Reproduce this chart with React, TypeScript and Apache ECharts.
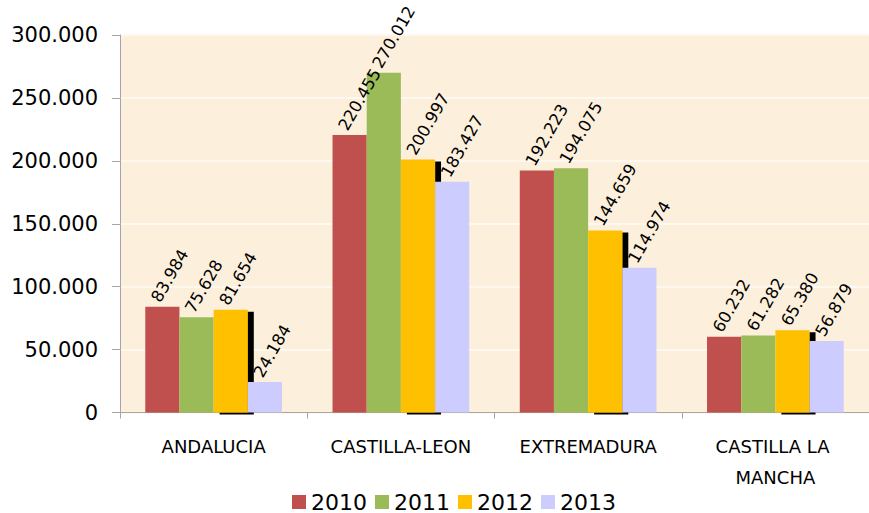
import React, { useEffect, useRef } from "react";
import * as echarts from "echarts";

const categories = ["ANDALUCIA", "CASTILLA-LEON", "EXTREMADURA", "CASTILLA LA MANCHA"];
const years = ["2010", "2011", "2012", "2013"];
const values2010 = [83984, 220455, 192223, 60232];
const values2011 = [75628, 270012, 194075, 61282];
const values2012 = [81654, 200997, 144659, 65380];
const values2013 = [24184, 183427, 114974, 56879];
const seriesValues = [values2010, values2011, values2012, values2013];
const colors = ["#C0504D", "#9BBB59", "#FFC000", "#CCCCFF"];
const yMin = 0;
const yMax = 300000;
const yInterval = 50000;

const fmt = (v: number) => String(Math.round(v)).replace(/\B(?=(\d{3})+(?!\d))/g, ".");

export default function App() {
  const ref = useRef<HTMLDivElement>(null);
  useEffect(() => {
    if (!ref.current) return;
    const chart = echarts.init(ref.current, null, { renderer: "svg" });
    const numFont = "DejaVu Sans";
    chart.setOption({
      animation: false,
      backgroundColor: "#FFFFFF",
      grid: {
        left: 120,
        top: 35,
        width: 756,
        height: 377.5,
        show: true,
        backgroundColor: "#FCF0DC",
        borderWidth: 0,
        containLabel: false,
      },
      legend: {
        data: years,
        left: 287,
        top: 486,
        icon: "rect",
        itemWidth: 14,
        itemHeight: 14,
        itemGap: 8,
        textStyle: { fontFamily: numFont, fontSize: 22, color: "#000", lineHeight: 22 },
      },
      xAxis: {
        type: "category",
        data: categories,
        axisLine: { show: true, lineStyle: { color: "#A6A6A6", width: 1 } },
        axisTick: { show: true, length: 6, lineStyle: { color: "#A6A6A6" } },
        axisLabel: {
          interval: 0,
          margin: 18,
          fontFamily: numFont,
          fontSize: 18,
          color: "#000",
          lineHeight: 31,
          width: 170,
          overflow: "break",
        },
        splitLine: { show: false },
      },
      yAxis: {
        type: "value",
        min: yMin,
        max: yMax,
        interval: yInterval,
        axisLine: { show: true, lineStyle: { color: "#A6A6A6", width: 1 } },
        axisTick: { show: true, length: 8, lineStyle: { color: "#A6A6A6" } },
        axisLabel: {
          margin: 22,
          fontFamily: numFont,
          fontSize: 21,
          color: "#000",
          formatter: (v: number) => fmt(v),
        },
        splitLine: { show: true, lineStyle: { color: "#FFF8EE", width: 2 } },
      },
      series: years.map((y, i) => ({
        name: y,
        type: "bar",
        data: seriesValues[i],
        barGap: "0%",
        barCategoryGap: "27%",
        itemStyle: {
          color: colors[i],
          ...(i === 2
            ? { shadowColor: "#000000", shadowBlur: 0, shadowOffsetX: 6, shadowOffsetY: 2 }
            : {}),
        },
        label: {
          show: true,
          position: "top",
          distance: 2,
          offset: [0, -8],
          rotate: 60,
          align: "left",
          verticalAlign: "middle",
          fontFamily: numFont,
          fontSize: 16.5,
          color: "#000",
          formatter: (p: any) => fmt(p.value),
        },
      })),
    });
    return () => chart.dispose();
  }, []);
  return (
    <div
      ref={ref}
      style={{ position: "fixed", left: 0, top: 0, width: 869, height: 513 }}
    />
  );
}
